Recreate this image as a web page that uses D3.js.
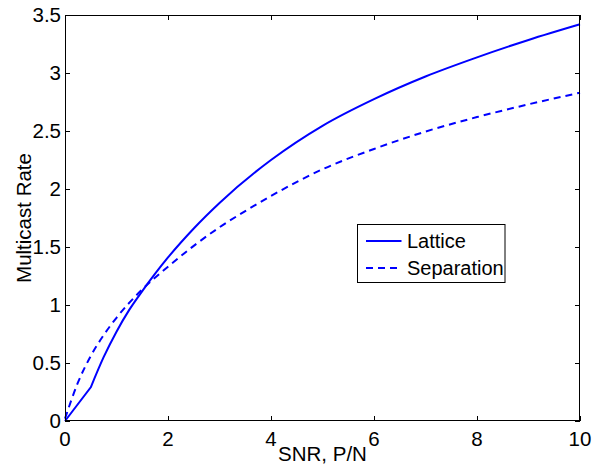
<!DOCTYPE html>
<html>
<head>
<meta charset="utf-8">
<script src="https://cdn.jsdelivr.net/npm/d3@7"></script>
<style>
    body{ margin: 0; background: #fff; }
    text{ font-family: 'Liberation Sans', Arial, sans-serif; fill: #000; }
</style>
</head>
<body>
<svg id="chart" width="592" height="466"></svg>
<script>
var latticeSnr = [ 0, 0.5, 0.75, 1, 1.25, 1.5, 1.75, 2, 2.5, 3, 4, 5, 6, 7, 8, 9, 10 ],
    latticeRate = [ 0, 0.29, 0.55, 0.77, 0.96, 1.12, 1.27, 1.41, 1.66, 1.88, 2.25, 2.545, 2.775, 2.97, 3.135, 3.285, 3.42 ],
    separationSnr = [ 0, 0.25, 0.5, 0.75, 1, 1.5, 2, 2.5, 3, 3.5, 4, 5, 6, 7, 8, 9, 10 ],
    separationRate = [ 0.02, 0.33, 0.56, 0.74, 0.89, 1.135, 1.33, 1.51, 1.67, 1.81, 1.94, 2.17, 2.345, 2.495, 2.62, 2.73, 2.83 ],
    xTicks = [ 0, 2, 4, 6, 8, 10 ],
    yTicks = [ 0, 0.5, 1, 1.5, 2, 2.5, 3, 3.5 ],
    seriesNames = [ 'Lattice', 'Separation' ];

(function(){
    'use strict';

    var box = { left: 65, top: 15, right: 580, bottom: 421 },
        svg = d3.select( '#chart' ),
        x = d3.scaleLinear().domain( [0, 10] ).range( [box.left, box.right] ),
        y = d3.scaleLinear().domain( [0, 3.5] ).range( [box.bottom, box.top] ),
        tickLen = 5,
        fontSize = 20.5;

    function pairs( xs, ys ){
        return xs.map( function( v, i ){
            return [ v, ys[i] ];
        });
    }

    var straight = d3.line()
            .x( function( d ){ return x( d[0] ); } )
            .y( function( d ){ return y( d[1] ); } ),
        smooth = d3.line()
            .curve( d3.curveMonotoneX )
            .x( function( d ){ return x( d[0] ); } )
            .y( function( d ){ return y( d[1] ); } ),
        latticePts = pairs( latticeSnr, latticeRate );

    // lattice has a hard corner at 0.5, keep it: straight up to there, smooth after
    svg.append( 'path' )
        .attr( 'd', straight( latticePts.slice(0, 2) ) + smooth( latticePts.slice(1) ).replace( /^M/, 'L' ) )
        .attr( 'fill', 'none' )
        .attr( 'stroke', '#0000ff' )
        .attr( 'stroke-width', 2 );

    svg.append( 'path' )
        .attr( 'd', smooth( pairs(separationSnr, separationRate) ) )
        .attr( 'fill', 'none' )
        .attr( 'stroke', '#0000ff' )
        .attr( 'stroke-width', 2 )
        .attr( 'stroke-dasharray', '7,5' );

    // axes, ticks pointing inward on every side
    svg.append( 'g' )
        .attr( 'transform', 'translate(0,' + box.bottom + ')' )
        .call( d3.axisTop( x ).tickValues( xTicks ).tickSize( tickLen ).tickFormat( '' ) );
    svg.append( 'g' )
        .attr( 'transform', 'translate(0,' + box.top + ')' )
        .call( d3.axisBottom( x ).tickValues( xTicks ).tickSize( tickLen ).tickFormat( '' ) );
    svg.append( 'g' )
        .attr( 'transform', 'translate(' + box.left + ',0)' )
        .call( d3.axisRight( y ).tickValues( yTicks ).tickSize( tickLen ).tickFormat( '' ) );
    svg.append( 'g' )
        .attr( 'transform', 'translate(' + box.right + ',0)' )
        .call( d3.axisLeft( y ).tickValues( yTicks ).tickSize( tickLen ).tickFormat( '' ) );

    svg.selectAll( '.domain' ).remove();
    svg.selectAll( '.tick line' ).attr( 'stroke', '#000' );

    svg.append( 'rect' )
        .attr( 'x', box.left + 0.5 )
        .attr( 'y', box.top + 0.5 )
        .attr( 'width', box.right - box.left - 1 )
        .attr( 'height', box.bottom - box.top - 1 )
        .attr( 'fill', 'none' )
        .attr( 'stroke', '#000' );

    svg.append( 'g' ).selectAll( 'text' )
        .data( xTicks )
        .enter().append( 'text' )
        .attr( 'x', function( d ){ return x( d ); } )
        .attr( 'y', 446 )
        .attr( 'text-anchor', 'middle' )
        .style( 'font-size', fontSize + 'px' )
        .text( function( d ){ return d; } );

    svg.append( 'g' ).selectAll( 'text' )
        .data( yTicks )
        .enter().append( 'text' )
        .attr( 'x', 61 )
        .attr( 'y', function( d ){ return y( d ); } )
        .attr( 'dy', '0.35em' )
        .attr( 'text-anchor', 'end' )
        .style( 'font-size', fontSize + 'px' )
        .text( function( d ){ return d; } );

    svg.append( 'text' )
        .attr( 'x', ( box.left + box.right ) / 2 )
        .attr( 'y', 461 )
        .attr( 'text-anchor', 'middle' )
        .style( 'font-size', fontSize + 'px' )
        .text( 'SNR, P/N' );

    svg.append( 'text' )
        .attr( 'transform', 'translate(31,' + ( box.top + box.bottom ) / 2 + ') rotate(-90)' )
        .attr( 'text-anchor', 'middle' )
        .style( 'font-size', fontSize + 'px' )
        .text( 'Multicast Rate' );

    // legend
    var $legend = svg.append( 'g' ).attr( 'transform', 'translate(357.5,224.5)' );

    $legend.append( 'rect' )
        .attr( 'width', 147.5 )
        .attr( 'height', 58 )
        .attr( 'fill', '#fff' )
        .attr( 'stroke', '#000' );

    seriesNames.forEach( function( name, i ){
        var ly = 16.5 + i * 27;

        $legend.append( 'line' )
            .attr( 'x1', 8.5 )
            .attr( 'x2', 44 )
            .attr( 'y1', ly )
            .attr( 'y2', ly )
            .attr( 'stroke', '#0000ff' )
            .attr( 'stroke-width', 2 )
            .attr( 'stroke-dasharray', i ? '7,5' : null );

        $legend.append( 'text' )
            .attr( 'x', 49.5 )
            .attr( 'y', ly )
            .attr( 'dy', '0.35em' )
            .style( 'font-size', '20px' )
            .text( name );
    });
})();
</script>
</body>
</html>
